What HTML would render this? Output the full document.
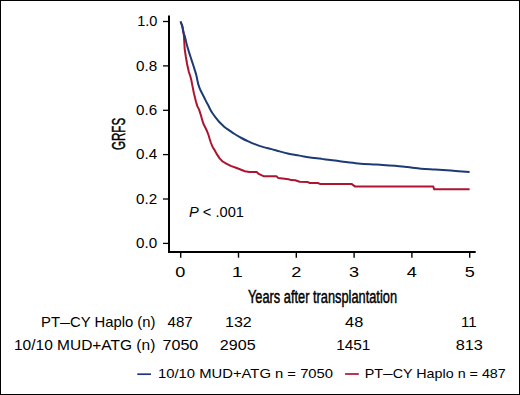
<!DOCTYPE html>
<html><head><meta charset="utf-8">
<style>
html,body{margin:0;padding:0;background:#fff;}
body{width:520px;height:395px;overflow:hidden;position:relative;}
svg{position:absolute;left:0;top:0;}
text{font-family:"Liberation Sans",sans-serif;fill:#000;}
.cond{stroke:#000;stroke-width:0.45px;}
</style></head>
<body>
<svg width="520" height="395" viewBox="0 0 520 395">
<rect x="0.5" y="0.5" width="519" height="394" fill="#fff" stroke="#000" stroke-width="1"/>
<g stroke="#000" fill="none">
<path d="M169 15.5 V253" stroke-width="2"/>
<path d="M168 252 H475.7" stroke-width="2"/>
<g stroke-width="1.3">
<path d="M163 21.5 H168"/>
<path d="M163 65.9 H168"/>
<path d="M163 110.3 H168"/>
<path d="M163 154.6 H168"/>
<path d="M163 199.0 H168"/>
<path d="M163 243.4 H168"/>
</g>
<g stroke-width="1.4">
<path d="M180.7 253 V257.7"/>
<path d="M238.5 253 V257.7"/>
<path d="M296.3 253 V257.7"/>
<path d="M354.1 253 V257.7"/>
<path d="M411.9 253 V257.7"/>
<path d="M469.7 253 V257.7"/>
</g>
</g>
<text x="157.30" y="26.10" font-size="14.5" text-anchor="end" textLength="20.17" lengthAdjust="spacingAndGlyphs">1.0</text>
<text x="157.30" y="70.50" font-size="14.5" text-anchor="end" textLength="21.17" lengthAdjust="spacingAndGlyphs">0.8</text>
<text x="157.30" y="114.90" font-size="14.5" text-anchor="end" textLength="21.17" lengthAdjust="spacingAndGlyphs">0.6</text>
<text x="157.30" y="159.20" font-size="14.5" text-anchor="end" textLength="21.17" lengthAdjust="spacingAndGlyphs">0.4</text>
<text x="157.30" y="203.60" font-size="14.5" text-anchor="end" textLength="21.17" lengthAdjust="spacingAndGlyphs">0.2</text>
<text x="157.30" y="248.00" font-size="14.5" text-anchor="end" textLength="21.17" lengthAdjust="spacingAndGlyphs">0.0</text>
<text x="180.30" y="277.00" font-size="14.5" text-anchor="middle" textLength="10.08" lengthAdjust="spacingAndGlyphs">0</text>
<text x="237.20" y="277.00" font-size="14.5" text-anchor="middle" textLength="11.08" lengthAdjust="spacingAndGlyphs">1</text>
<text x="296.30" y="277.00" font-size="14.5" text-anchor="middle" textLength="10.08" lengthAdjust="spacingAndGlyphs">2</text>
<text x="354.10" y="277.00" font-size="14.5" text-anchor="middle" textLength="10.08" lengthAdjust="spacingAndGlyphs">3</text>
<text x="411.90" y="277.00" font-size="14.5" text-anchor="middle" textLength="10.08" lengthAdjust="spacingAndGlyphs">4</text>
<text x="469.90" y="277.00" font-size="14.5" text-anchor="middle" textLength="10.08" lengthAdjust="spacingAndGlyphs">5</text>
<text x="0.00" y="0.00" font-size="17.6" textLength="32.10" lengthAdjust="spacingAndGlyphs" transform="translate(124.7,150.00) rotate(-90)" class="cond">GRFS</text>
<text x="248.00" y="303.20" font-size="17.5" textLength="149.00" lengthAdjust="spacingAndGlyphs" class="cond">Years after transplantation</text>
<text x="41.00" y="326.50" font-size="14.5" textLength="114.41" lengthAdjust="spacingAndGlyphs">PT<tspan letter-spacing="-6.3">–</tspan>–CY Haplo (n)</text>
<text x="14.00" y="349.80" font-size="14.5" textLength="141.30" lengthAdjust="spacingAndGlyphs">10/10 MUD+ATG (n)</text>
<text x="180.10" y="326.70" font-size="14.5" text-anchor="middle" textLength="25.20" lengthAdjust="spacingAndGlyphs">487</text>
<text x="180.40" y="349.80" font-size="14.5" text-anchor="middle" textLength="35.77" lengthAdjust="spacingAndGlyphs">7050</text>
<text x="238.40" y="326.70" font-size="14.5" text-anchor="middle" textLength="26.70" lengthAdjust="spacingAndGlyphs">132</text>
<text x="237.70" y="349.80" font-size="14.5" text-anchor="middle" textLength="35.77" lengthAdjust="spacingAndGlyphs">2905</text>
<text x="354.20" y="326.70" font-size="14.5" text-anchor="middle" textLength="18.14" lengthAdjust="spacingAndGlyphs">48</text>
<text x="353.30" y="349.80" font-size="14.5" text-anchor="middle" textLength="34.27" lengthAdjust="spacingAndGlyphs">1451</text>
<text x="468.80" y="326.70" font-size="14.5" text-anchor="middle" textLength="15.56" lengthAdjust="spacingAndGlyphs">11</text>
<text x="469.30" y="349.80" font-size="14.5" text-anchor="middle" textLength="27.20" lengthAdjust="spacingAndGlyphs">813</text>
<text x="189.00" y="216.80" font-size="14.5" textLength="54.92" lengthAdjust="spacingAndGlyphs"><tspan font-style="italic">P</tspan> &lt; .001</text>
<text x="158.00" y="378.00" font-size="13.5" textLength="175.09" lengthAdjust="spacingAndGlyphs">10/10 MUD+ATG n = 7050</text>
<text x="364.80" y="378.30" font-size="13.5" textLength="141.00" lengthAdjust="spacingAndGlyphs">PT<tspan letter-spacing="-6">–</tspan>–CY Haplo n = 487</text>
<path d="M137.3 374.2 H151" stroke="#1c3a74" stroke-width="1.7"/>
<path d="M345.1 374 H358.8" stroke="#ad1430" stroke-width="1.7"/>
<polyline fill="none" stroke="#ad1430" stroke-width="2" stroke-linejoin="round" points="180.6,21.5 181.5,24 182.2,25.8 182.9,29.4 183.6,33.2 184,37 184.2,40.5 184.7,49.1 185.8,56.5 187.1,64 187.8,67.2 188.9,72 190.4,76.5 191.3,80 192.2,84.6 193.9,93.2 196,101.8 197.3,106.1 199.1,109.6 200.7,114.6 202.2,119.9 203.4,123.7 205.3,127.5 207.1,131.3 208.5,135 209.7,139 211,143 212.6,147 214.8,150.4 217,154.4 219.6,158.4 222.7,161.5 226.3,163.7 230.7,165.9 236,167.7 240.5,169.5 244.9,171.2 249.4,171.9 256.7,172.1 258.7,173.9 263.5,176.2 276.4,176.2 278.4,178.1 284.6,178.8 288.5,179.2 291.3,180.1 295.2,180.2 299.7,181.7 307.8,182.1 309.8,183 317.9,183 319.9,183.9 351.5,183.9 354.9,186.4 433.3,186.4 434.1,189.2 469.6,189.2"/>
<path fill="none" stroke="#1c3a74" stroke-width="2" stroke-linejoin="round" d="M180.60 21.50 C180.75 21.92 181.23 23.28 181.50 24.00 C181.77 24.72 181.97 24.90 182.20 25.80 C182.43 26.70 182.65 28.17 182.90 29.40 C183.15 30.63 183.35 31.93 183.70 33.20 C184.05 34.47 184.65 35.78 185.00 37.00 C185.35 38.22 185.48 39.17 185.80 40.50 C186.12 41.83 186.37 43.07 186.90 45.00 C187.43 46.93 188.27 49.73 189.00 52.10 C189.73 54.47 190.53 56.83 191.30 59.20 C192.07 61.57 192.97 64.33 193.60 66.30 C194.23 68.27 194.63 69.47 195.10 71.00 C195.57 72.53 196.03 74.00 196.40 75.50 C196.77 77.00 196.97 78.48 197.30 80.00 C197.63 81.52 197.97 83.12 198.40 84.60 C198.83 86.08 199.30 87.47 199.90 88.90 C200.50 90.33 201.28 91.77 202.00 93.20 C202.72 94.63 203.40 95.92 204.20 97.50 C205.00 99.08 206.07 101.28 206.80 102.70 C207.53 104.12 208.07 104.95 208.60 106.00 C209.13 107.05 209.35 107.78 210.00 109.00 C210.65 110.22 211.58 111.90 212.50 113.30 C213.42 114.70 214.37 115.95 215.50 117.40 C216.63 118.85 217.90 120.50 219.30 122.00 C220.70 123.50 222.88 125.45 223.90 126.40 C224.92 127.35 224.57 127.08 225.40 127.70 C226.23 128.32 227.37 129.05 228.90 130.10 C230.43 131.15 232.52 132.68 234.60 134.00 C236.68 135.32 239.12 136.77 241.40 138.00 C243.68 139.23 245.97 140.33 248.30 141.40 C250.63 142.47 252.87 143.45 255.40 144.40 C257.93 145.35 260.82 146.32 263.50 147.10 C266.18 147.88 268.82 148.38 271.50 149.10 C274.18 149.82 276.90 150.67 279.60 151.40 C282.30 152.13 285.00 152.92 287.70 153.50 C290.40 154.08 293.12 154.42 295.80 154.90 C298.48 155.38 301.12 155.93 303.80 156.40 C306.48 156.87 309.20 157.33 311.90 157.70 C314.60 158.07 317.95 158.35 320.00 158.60 C322.05 158.85 321.70 158.88 324.20 159.20 C326.70 159.52 331.40 160.03 335.00 160.50 C338.60 160.97 341.95 161.52 345.80 162.00 C349.65 162.48 354.00 163.02 358.10 163.40 C362.20 163.78 366.30 164.05 370.40 164.30 C374.50 164.55 378.60 164.65 382.70 164.90 C386.80 165.15 390.90 165.43 395.00 165.80 C399.10 166.17 402.95 166.62 407.30 167.10 C411.65 167.58 416.48 168.28 421.10 168.70 C425.72 169.12 430.08 169.28 435.00 169.60 C439.92 169.92 444.83 170.20 450.60 170.60 C456.37 171.00 466.43 171.77 469.60 172.00"/>
</svg>
</body></html>
